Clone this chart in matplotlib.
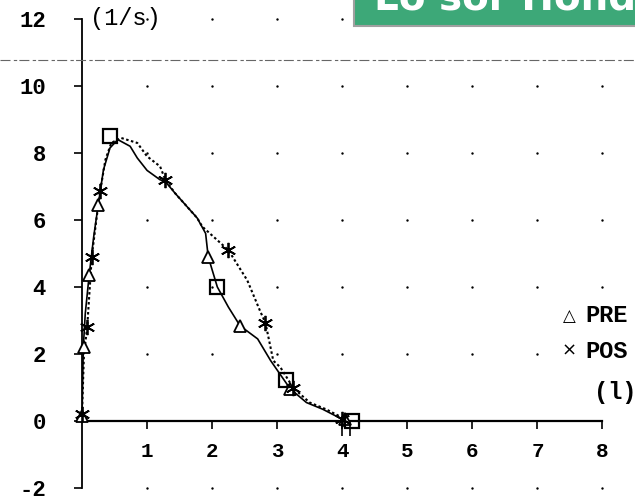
import matplotlib

matplotlib.use("Agg")

import matplotlib.pyplot as plt
from matplotlib.lines import Line2D
from matplotlib.patches import Rectangle

# flow (1/s) against volume (l)
pre_vol = [0.0, 0.02, 0.05, 0.11, 0.18, 0.25, 0.33, 0.43, 0.55, 0.74, 0.85, 1.0, 1.2, 1.28,
           1.43, 1.77, 1.9, 1.94, 2.08, 2.25, 2.43, 2.7, 2.9, 3.2, 3.45, 3.7, 3.95, 4.1]
pre_flow = [0.15, 2.2, 3.2, 4.35, 5.5, 6.46, 7.5, 8.15, 8.4, 8.2, 7.85, 7.48, 7.2, 7.15,
            6.8, 6.06, 5.6, 4.9, 4.0, 3.4, 2.84, 2.45, 1.8, 0.96, 0.55, 0.35, 0.1, 0.0]
pre_mark_vol = [0.0, 0.03, 0.11, 0.25, 1.94, 2.43, 3.2, 4.05]
pre_mark_flow = [0.15, 2.2, 4.35, 6.46, 4.9, 2.84, 0.96, 0.05]

post_vol = [0.0, 0.03, 0.08, 0.15, 0.22, 0.28, 0.36, 0.45, 0.6, 0.85, 1.0, 1.2, 1.28, 1.43,
            1.77, 1.85, 2.05, 2.25, 2.54, 2.74, 2.82, 2.94, 3.05, 3.25, 3.5, 3.75, 4.0, 4.12]
post_flow = [0.2, 2.0, 2.8, 4.9, 6.0, 6.87, 7.8, 8.3, 8.45, 8.3, 7.9, 7.6, 7.2, 6.8,
             6.06, 5.8, 5.45, 5.1, 4.2, 3.27, 2.93, 1.8, 1.6, 0.98, 0.55, 0.35, 0.1, 0.0]
post_mark_vol = [0.0, 0.08, 0.15, 0.28, 1.28, 2.25, 2.82, 3.25, 4.0]
post_mark_flow = [0.2, 2.8, 4.9, 6.87, 7.2, 5.1, 2.93, 0.98, 0.05]

# predicted values (squares)
pred_vol = [0.43, 2.08, 3.14, 4.15]
pred_flow = [8.5, 4.0, 1.22, 0.0]

# FVC marks under the axis
fvc_vol = [4.0, 4.12]

x_ticks = [1, 2, 3, 4, 5, 6, 7, 8]
y_ticks = [-2, 0, 2, 4, 6, 8, 10, 12]

mono = ["Liberation Mono", "DejaVu Sans Mono"]

fig = plt.figure(figsize=(6.35, 5), dpi=100)
# 0 sits at 421 px from the top, about 33.5 px per unit
ax = fig.add_axes([82 / 635, 9.7 / 500, 553 / 635, 491.4 / 500])
ax.set_xlim(0, 8.5)
ax.set_ylim(-2.07, 12.6)

# dotted grid: a dot at every crossing
gx = [x for x in x_ticks for y in y_ticks if y != 0]
gy = [y for x in x_ticks for y in y_ticks if y != 0]
ax.scatter(gx, gy, s=3, color="black", linewidths=0, zorder=1)

ax.plot(pre_vol, pre_flow, color="black", lw=1.2, zorder=3)
ax.plot(post_vol, post_flow, color="black", lw=1.5, ls=(0, (1.2, 1.2)), zorder=3)
ax.plot(pre_mark_vol, pre_mark_flow, ls="none", marker="^", ms=8, mfc="white",
        mec="black", mew=1.3, zorder=4, clip_on=False)
ax.plot(post_mark_vol, post_mark_flow, ls="none", marker=(6, 2, 0), ms=11,
        mec="black", mew=1.3, zorder=5, clip_on=False)
ax.plot(pred_vol, pred_flow, ls="none", marker="s", ms=10, mfc="none",
        mec="black", mew=1.6, zorder=5, clip_on=False)
ax.vlines(fvc_vol, -0.45, 0, color="black", lw=1.2, zorder=4)

for side in ["top", "right"]:
    ax.spines[side].set_visible(False)
ax.spines["bottom"].set_position(("data", 0))
ax.spines["bottom"].set_bounds(0, 8)
ax.spines["left"].set_bounds(-2, 12)
ax.spines["bottom"].set_linewidth(1.6)
ax.spines["left"].set_linewidth(1.3)

ax.set_xticks(x_ticks)
ax.set_yticks(y_ticks)
ax.set_xticklabels([str(t) for t in x_ticks], family=mono, fontweight="bold", fontsize=15)
ax.set_yticklabels([str(t) for t in y_ticks], family=mono, fontweight="bold", fontsize=16)
ax.tick_params(axis="x", direction="out", length=6, width=1.2, pad=9)
ax.tick_params(axis="y", direction="out", length=6, width=1.2, pad=20)

ax.text(0.12, 12.0, "(1/s)", family=mono, fontsize=17, va="center", ha="left")

# legend, cut off by the scan edge
fig.text(569 / 635, 1 - 316 / 500, "\u25b3", family=["DejaVu Sans"],
         fontsize=12, va="center", ha="center")
fig.text(585 / 635, 1 - 316 / 500, "PRE", family=mono, fontweight="bold",
         fontsize=17, va="center")
fig.text(569 / 635, 1 - 351 / 500, "\u00d7", family=["DejaVu Sans"],
         fontsize=13, va="center", ha="center")
fig.text(585 / 635, 1 - 351 / 500, "POS", family=mono, fontweight="bold",
         fontsize=17, va="center")
fig.text(594 / 635, 1 - 392 / 500, "(l)", family=mono, fontweight="bold",
         fontsize=17, va="center")

# fold line of the scan
fig.add_artist(Line2D([0, 1], [1 - 60 / 500, 1 - 60 / 500], transform=fig.transFigure,
                      color="#666666", lw=0.8, ls=(0, (9, 3, 3, 2))))

# green banner at the top right
fig.add_artist(Rectangle((354 / 635, 1 - 26 / 500), 290 / 635, 28 / 500,
                         transform=fig.transFigure, facecolor="#3da878",
                         edgecolor="#a0a0a0", lw=1.5, zorder=10))
fig.text(374 / 635, 1 - 10 / 500, "Lo sor Hond", color="white", fontsize=28,
         fontweight="bold", family="DejaVu Sans", va="baseline", zorder=11)

fig.savefig("out.png", dpi=100)
